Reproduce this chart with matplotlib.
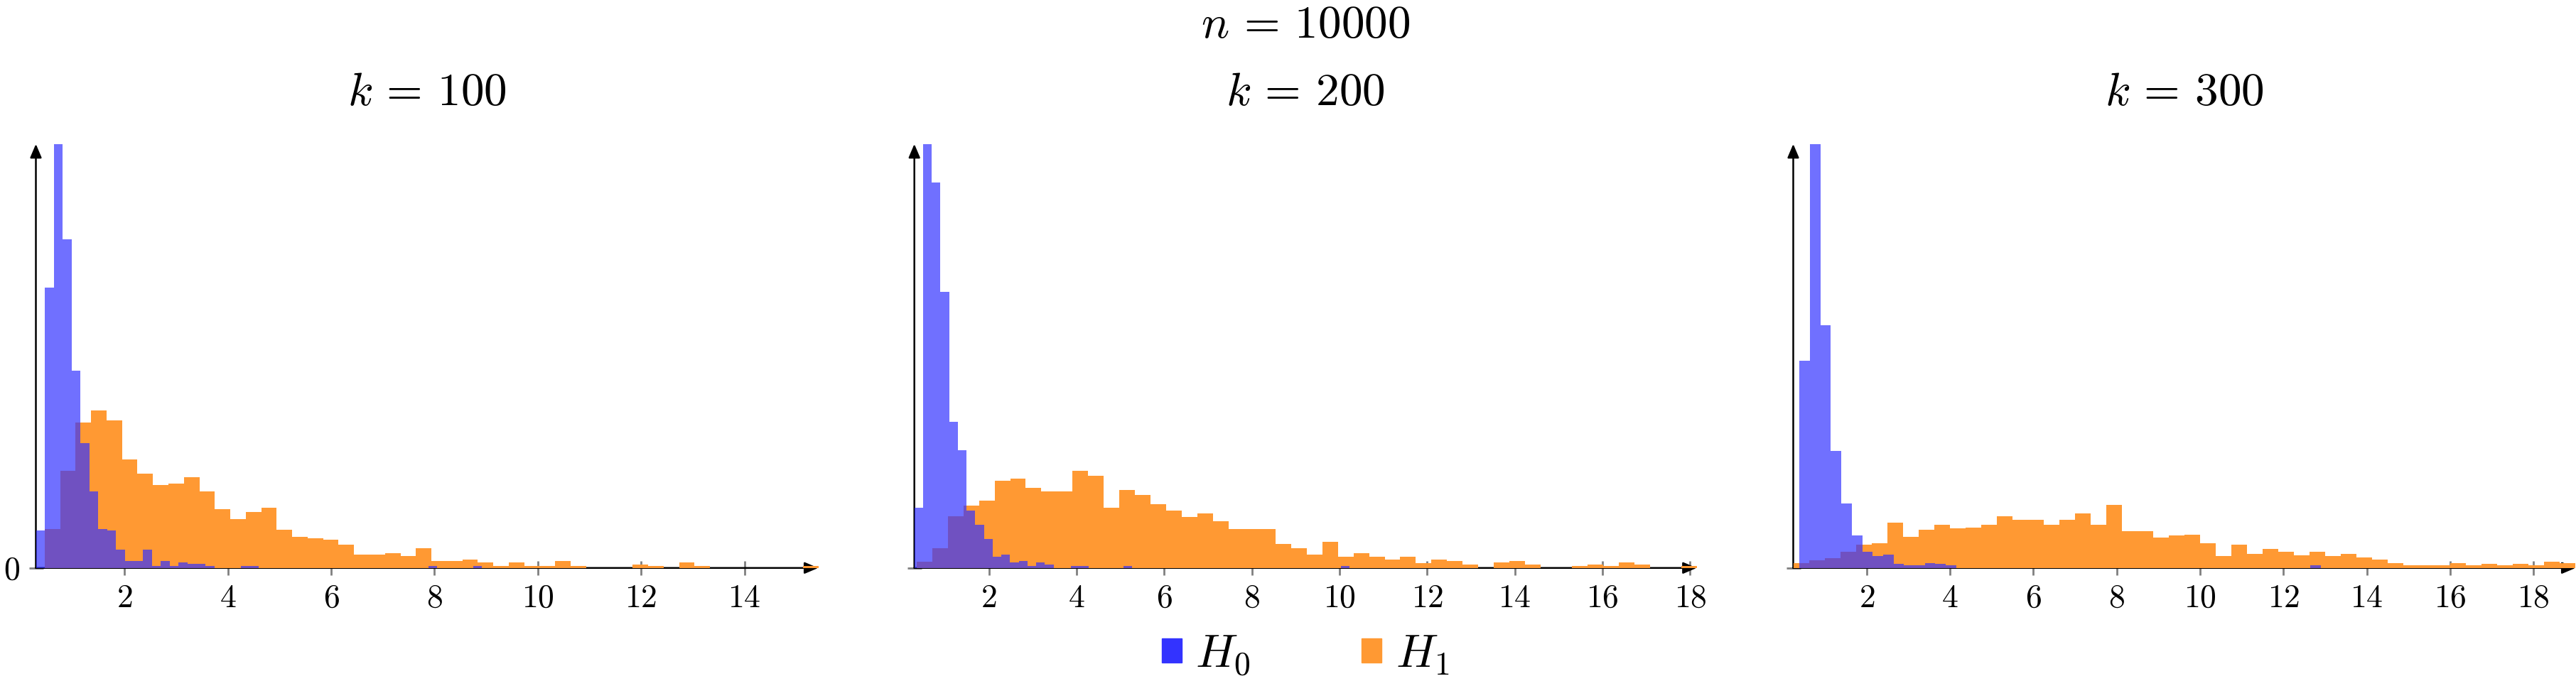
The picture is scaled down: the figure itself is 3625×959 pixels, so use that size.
import numpy as np
import matplotlib.pyplot as plt
from matplotlib.patches import Patch
from matplotlib.ticker import FuncFormatter

plt.rcParams['mathtext.fontset'] = 'cm'
plt.rcParams['font.family'] = 'serif'
plt.rcParams['font.serif'] = ['cmr10', 'DejaVu Serif']
plt.rcParams['axes.unicode_minus'] = False

n = 10000
ks = [100, 200, 300]

# (min, max) of each sample -> 50 equal bins between them
h0_range = [(0.284, 8.92), (0.301, 10.23), (0.391, 12.90)]
h1_range = [(0.453, 15.43), (0.351, 18.15), (0.238, 19.01)]

# bar heights (arbitrary units, axis top = 1443)
h0_heights = [
    [128, 954, 1500, 1118, 672, 425, 260, 133, 128, 62, 24, 24, 62, 7, 24, 7, 19, 13, 13, 7,
     0, 0, 0, 7, 7, 0, 0, 0, 0, 0, 0, 0, 0, 0, 0, 0, 0, 0, 0, 0,
     0, 0, 0, 0, 7, 0, 0, 0, 0, 7],
    [205, 1500, 1313, 940, 498, 400, 195, 147, 98, 39, 45, 18, 23, 7, 18, 12, 0, 0, 7, 7,
     0, 0, 0, 0, 7, 0, 0, 0, 0, 0, 0, 0, 0, 0, 0, 0, 0, 0, 0, 0,
     0, 0, 0, 0, 0, 0, 0, 0, 0, 7],
    [706, 1500, 827, 399, 220, 110, 55, 40, 45, 13, 9, 9, 17, 13, 9, 0, 0, 0, 0, 0,
     0, 0, 0, 0, 0, 0, 0, 0, 0, 0, 0, 0, 0, 0, 0, 0, 0, 0, 0, 0,
     0, 0, 0, 0, 0, 0, 0, 0, 0, 9],
]
h1_heights = [
    [133, 330, 496, 535, 502, 370, 320, 282, 286, 310, 260, 200, 167, 190, 205, 129, 107, 101, 95, 79,
     46, 46, 51, 40, 68, 24, 24, 29, 18, 7, 18, 7, 7, 23, 7, 0, 0, 0, 12, 7,
     0, 18, 7, 0, 0, 0, 0, 0, 0, 7],
    [22, 67, 175, 212, 229, 298, 303, 273, 260, 260, 330, 314, 206, 266, 249, 218, 195, 174, 185, 159,
     132, 132, 132, 82, 67, 45, 89, 39, 50, 39, 28, 39, 17, 28, 23, 12, 0, 18, 23, 12,
     0, 0, 7, 12, 7, 18, 12, 0, 0, 7],
    [17, 25, 33, 55, 79, 84, 154, 107, 130, 146, 134, 138, 146, 177, 165, 165, 146, 165, 185, 146,
     215, 126, 126, 103, 110, 114, 84, 40, 79, 49, 64, 56, 44, 56, 40, 49, 36, 28, 17, 9,
     9, 9, 17, 9, 13, 9, 13, 9, 21, 17],
]
last_tick = [14, 18, 18]

c0 = '#3333ff'
c1 = '#ff9933'

W, H = 3625, 959
fig = plt.figure(figsize=(W / 100, H / 100), dpi=100)
lefts = [50.5, 1286.7, 2523.5]
axw, axh, axb = 1101, 597, 159.2

for i, k in enumerate(ks):
    ax = fig.add_axes([lefts[i] / W, axb / H, axw / W, axh / H])
    e1 = np.linspace(h1_range[i][0], h1_range[i][1], len(h1_heights[i]) + 1)
    e0 = np.linspace(h0_range[i][0], h0_range[i][1], len(h0_heights[i]) + 1)
    ax.bar(e1[:-1], h1_heights[i], width=np.diff(e1), align='edge', color=c1, lw=0, zorder=2)
    ax.bar(e0[:-1], h0_heights[i], width=np.diff(e0), align='edge', color=c0, alpha=0.7, lw=0, zorder=3)

    ax.set_xlim(min(h0_range[i][0], h1_range[i][0]), h1_range[i][1])
    ax.set_ylim(0, 1443)
    for s in ax.spines.values():
        s.set_visible(False)
    ax.set_axisbelow(True)

    arrow = dict(arrowstyle='-|>,head_length=0.4,head_width=0.17', mutation_scale=29,
                 lw=1.8, color='k', shrinkA=0, shrinkB=0)
    ax.annotate('', xy=(1, 0), xytext=(0, 0), xycoords='axes fraction', arrowprops=arrow,
                zorder=1, annotation_clip=False)
    ax.annotate('', xy=(0, 1), xytext=(0, 0), xycoords='axes fraction', arrowprops=arrow,
                zorder=1, annotation_clip=False)

    ax.set_xticks(np.arange(2, last_tick[i] + 1, 2))
    ax.xaxis.set_major_formatter(FuncFormatter(lambda v, p: r'$%d$' % v))
    ax.set_yticks([0])
    if i == 0:
        ax.set_yticklabels([r'$0$'])
    else:
        ax.set_yticklabels([''])
    ax.tick_params(axis='both', direction='inout', length=14, width=2, color='#808080',
                   labelsize=33, pad=9)

    fig.text((lefts[i] + axw / 2) / W, 1 - 132 / H, r'$k \,=\, %d$' % k,
             ha='center', va='center', fontsize=47)

fig.text((lefts[1] + axw / 2) / W, 1 - 37 / H, r'$n \,=\, %d$' % n,
         ha='center', va='center', fontsize=47)

handles = [Patch(color=c0), Patch(color=c1)]
fig.legend(handles, [r'$H_0$', r'$H_1$'], loc='center', bbox_to_anchor=(1837 / W, 1 - 923 / H),
           ncol=2, frameon=False, fontsize=47, handlelength=0.43, handleheight=0.42,
           handletextpad=0.3, columnspacing=2.4, borderpad=0)

fig.savefig('out.png', dpi=100)
